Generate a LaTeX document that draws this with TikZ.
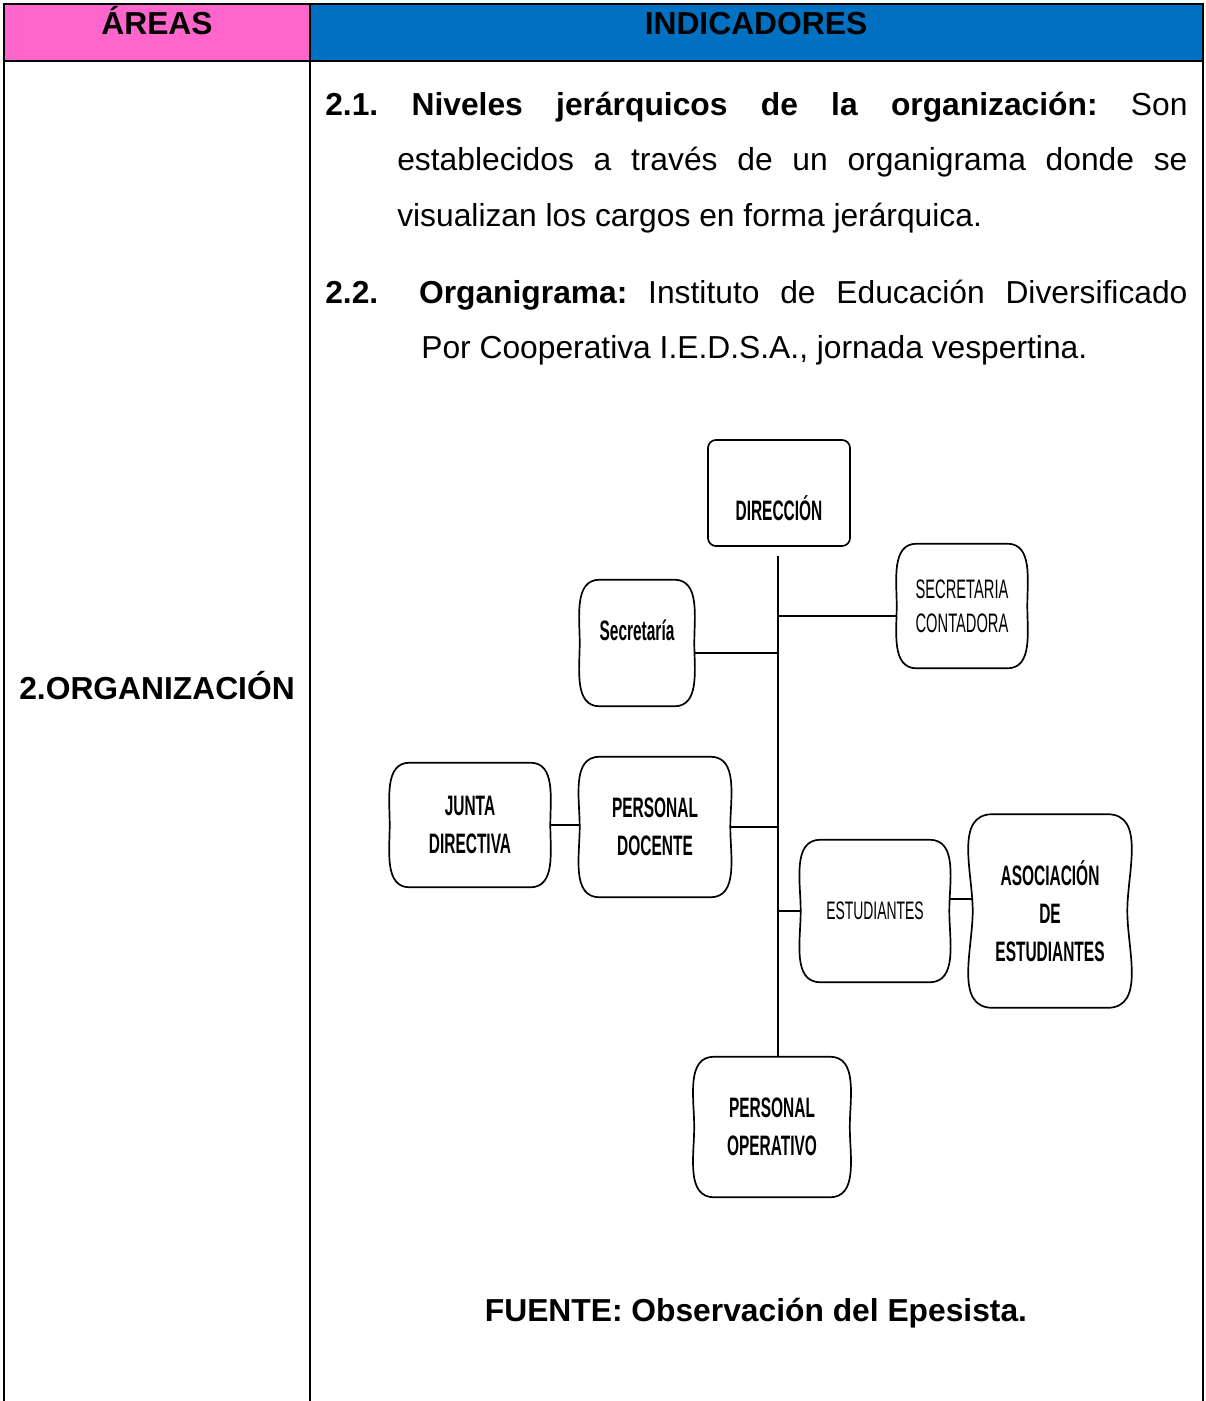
\documentclass[tikz,border=0pt]{standalone}
\usepackage{fontspec}
\setmainfont{Liberation Sans}
\newfontfamily\orgfont[FakeStretch=0.55]{Liberation Sans}
\frenchspacing

\begin{document}
\begin{tikzpicture}[x=0.025cm,y=-0.025cm,
   cab/.style={font=\bfseries\fontsize{22.6}{27}\selectfont, anchor=base, inner sep=0pt},
   parrafo/.style={font=\fontsize{22.6}{39.5}\selectfont, anchor=base west, inner sep=0pt, text width=21.55cm, align=justify},
   caja/.style={align=center, inner sep=2pt, font=\orgfont\bfseries\fontsize{20}{27}\selectfont},
   linea/.style={line width=1.2pt}]
   \definecolor{rosa}{RGB}{255,102,204}
   \definecolor{azul}{RGB}{0,112,192}
   \useasboundingbox (0,0) rectangle (1205,1401);
   \fill[rosa] (4,4) rectangle (310,61);
   \fill[azul] (310,4) rectangle (1203,61);
   \draw[line width=1.8pt] (4,1401) -- (4,4) -- (1203,4) -- (1203,1401) (4,61) -- (1203,61) (310,4) -- (310,1401);
   \node[cab] (areas) at (157,34) {ÁREAS};
   \node[cab] (indic) at (756,34) {INDICADORES};
   \node[cab] (org) at (157,699) {2.ORGANIZACIÓN};
   \node[parrafo] (p21) at (325,115) {\hangindent=1.8cm\hangafter=1\noindent\textbf{2.1. Niveles jerárquicos de la organización:} Son\linebreak establecidos a través de un organigrama donde se\linebreak visualizan los cargos en forma jerárquica.\par};
   \node[parrafo] (p22) at (325,303) {\hangindent=2.4cm\hangafter=1\noindent\textbf{2.2.\hspace{0.5cm} Organigrama:} Instituto de Educación Diversificado\linebreak Por Cooperativa I.E.D.S.A., jornada vespertina.\par};
   \node[caja, draw, line width=1.2pt, rounded corners=0.2cm, minimum width=3.55cm, minimum height=2.65cm, text height=1.35cm, text depth=0pt] (dir) at (779,493) {DIRECCIÓN};
   \node[caja, minimum width=2.85cm, minimum height=3.15cm, text height=0.5cm, text depth=0.65cm] (sec) at (637,643) {Secretaría};
   \node[caja, font=\orgfont\fontsize{19}{24}\selectfont, minimum width=3.25cm, minimum height=3.1cm] (cont) at (962,606) {SECRETARIA\\CONTADORA};
   \node[caja, minimum width=4cm, minimum height=3.1cm] (junta) at (470,825) {JUNTA\\DIRECTIVA};
   \node[caja, minimum width=3.75cm, minimum height=3.5cm] (doc) at (655,827) {PERSONAL\\DOCENTE};
   \node[caja, font=\orgfont\fontsize{18}{24}\selectfont, minimum width=3.7cm, minimum height=3.55cm] (est) at (875,911) {ESTUDIANTES};
   \node[caja, minimum width=3.85cm, minimum height=4.825cm] (asoc) at (1050,911) {ASOCIACIÓN\\DE\\ESTUDIANTES};
   \node[caja, minimum width=3.875cm, minimum height=3.5cm] (oper) at (772,1127) {PERSONAL\\OPERATIVO};
   \foreach \n in {sec,cont,junta,doc,est,asoc,oper}
      \draw[linea] ([xshift=0.5cm]\n.north west) -- ([xshift=-0.5cm]\n.north east) to[out=0,in=90] (\n.east) to[out=-90,in=0] ([xshift=-0.5cm]\n.south east) -- ([xshift=0.5cm]\n.south west) to[out=180,in=-90] (\n.west) to[out=90,in=180] cycle;
   \coordinate (tronco) at (778,556);
   \draw[linea] (tronco) -- (tronco |- oper.north);
   \draw[linea] ([yshift=-0.25cm]cont.west) -- ([yshift=-0.25cm]cont.west -| tronco);
   \draw[linea] ([yshift=-0.25cm]sec.east) -- ([yshift=-0.25cm]sec.east -| tronco);
   \draw[linea] (doc.east) -- (doc.east -| tronco);
   \draw[linea] (junta.east) -- (junta.east -| doc.west);
   \draw[linea] (est.west) -- (est.west -| tronco);
   \draw[linea] ([yshift=0.3cm]est.east) -- ([yshift=0.3cm]est.east -| asoc.west);
   \node[cab] (fuente) at (756,1321) {FUENTE: Observación del Epesista.};
\end{tikzpicture}
\end{document}
